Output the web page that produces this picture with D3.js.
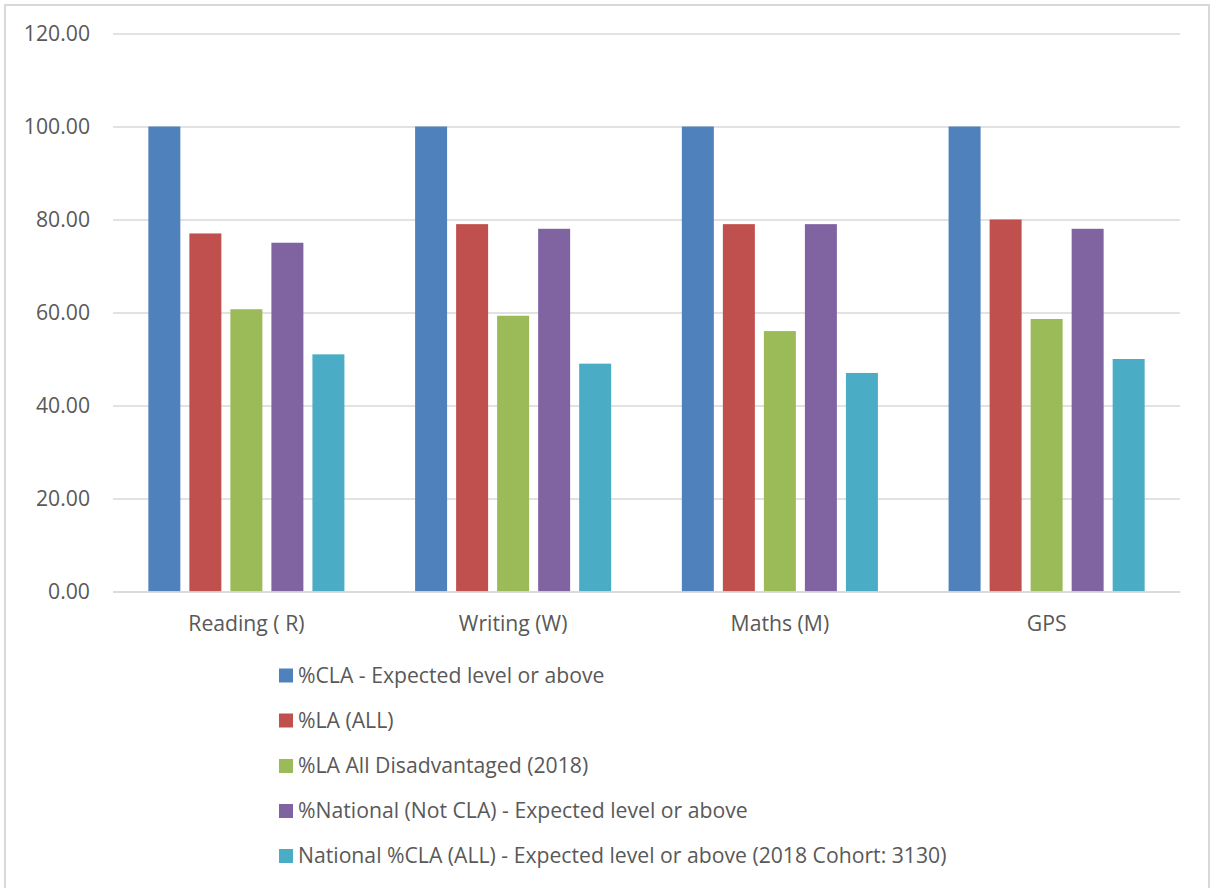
<!DOCTYPE html>
<html>
<head>
<meta charset="utf-8">
<script src="https://cdn.jsdelivr.net/npm/d3@7"></script>
<style>
  html, body { margin: 0; padding: 0; background: #ffffff; }
  svg { display: block; font-family: "Open Sans", "Liberation Sans", sans-serif; }
</style>
</head>
<body>
<svg id="chart" width="1214" height="888"></svg>
<script>
// Subjects along the x axis
const categories = ["Reading ( R)", "Writing (W)", "Maths (M)", "GPS"];

// Series names (legend order)
const seriesNames = [
  "%CLA - Expected level or above",
  "%LA (ALL)",
  "%LA All Disadvantaged (2018)",
  "%National (Not CLA) - Expected level or above",
  "National %CLA (ALL) - Expected level or above (2018 Cohort: 3130)"
];

// Values per series, one per subject
const claExpected      = [100, 100, 100, 100];
const laAll            = [77, 79, 79, 80];
const laDisadvantaged  = [60.7, 59.3, 56.0, 58.6];
const nationalNotCla   = [75, 78, 79, 78];
const nationalClaAll   = [51, 49, 47, 50];

const seriesValues = [claExpected, laAll, laDisadvantaged, nationalNotCla, nationalClaAll];
const seriesColors = ["#4f81bd", "#c0504d", "#9bbb59", "#8064a2", "#4bacc6"];

// Y axis ticks
const yTicks = [0, 20, 40, 60, 80, 100, 120];

const FONT_SIZE = "21.2px";

const svg = d3.select("#chart");

// Outer frame
svg.append("rect")
  .attr("x", 5).attr("y", 5)
  .attr("width", 1204).attr("height", 900)
  .attr("fill", "#ffffff")
  .attr("stroke", "#d9d9d9")
  .attr("stroke-width", 2);

const plot = { left: 113, right: 1180, top: 33.5, bottom: 591.5 };

const y = d3.scaleLinear().domain([0, 120]).range([plot.bottom, plot.top]);

const x0 = d3.scaleBand().domain(categories).range([plot.left, plot.right]).padding(0);
const bw = x0.bandwidth();
const groupW = bw * 0.735;
const x1 = d3.scaleBand()
  .domain(d3.range(seriesNames.length))
  .range([(bw - groupW) / 2, (bw + groupW) / 2])
  .paddingInner(0.22)
  .paddingOuter(0);

// Gridlines and y tick labels
const yAxis = d3.axisLeft(y).tickValues(yTicks).tickSize(-(plot.right - plot.left)).tickFormat(d3.format(".2f"));
const gy = svg.append("g").attr("transform", `translate(${plot.left},0)`).call(yAxis);
gy.select(".domain").remove();
gy.selectAll(".tick line").attr("stroke", "#d9d9d9").attr("stroke-width", 1.5);
gy.selectAll(".tick text")
  .attr("x", -23)
  .attr("fill", "#595959")
  .style("font-size", FONT_SIZE)
  .style("font-family", "'Open Sans', sans-serif");

// Bars
const groups = svg.append("g").selectAll("g")
  .data(categories)
  .join("g")
  .attr("transform", d => `translate(${x0(d)},0)`);

groups.selectAll("rect")
  .data((d, ci) => seriesValues.map((vals, si) => ({ si, v: vals[ci] })))
  .join("rect")
  .attr("x", d => x1(d.si))
  .attr("y", d => y(d.v))
  .attr("width", x1.bandwidth())
  .attr("height", d => y(0) - y(d.v))
  .attr("fill", d => seriesColors[d.si]);

// X axis baseline and category labels
const xAxis = d3.axisBottom(x0).tickSize(0).tickPadding(0);
const gx = svg.append("g").attr("transform", `translate(0,${plot.bottom})`).call(xAxis);
gx.select(".domain").attr("stroke", "#d9d9d9").attr("stroke-width", 1.5);
gx.selectAll(".tick text")
  .attr("y", 39.5)
  .attr("dy", 0)
  .attr("fill", "#595959")
  .style("font-size", FONT_SIZE)
  .style("font-family", "'Open Sans', sans-serif");

// Legend
const legend = svg.append("g").attr("transform", "translate(279,0)");
const rowY = [675.5, 720.5, 766, 811, 856];
const items = legend.selectAll("g")
  .data(seriesNames)
  .join("g")
  .attr("transform", (d, i) => `translate(0,${rowY[i]})`);
items.append("rect")
  .attr("x", 0).attr("y", -7)
  .attr("width", 14).attr("height", 14)
  .attr("fill", (d, i) => seriesColors[i]);
items.append("text")
  .attr("x", 19).attr("y", 0).attr("dy", "0.35em")
  .attr("fill", "#595959")
  .style("font-size", FONT_SIZE)
  .text(d => d);
</script>
</body>
</html>
